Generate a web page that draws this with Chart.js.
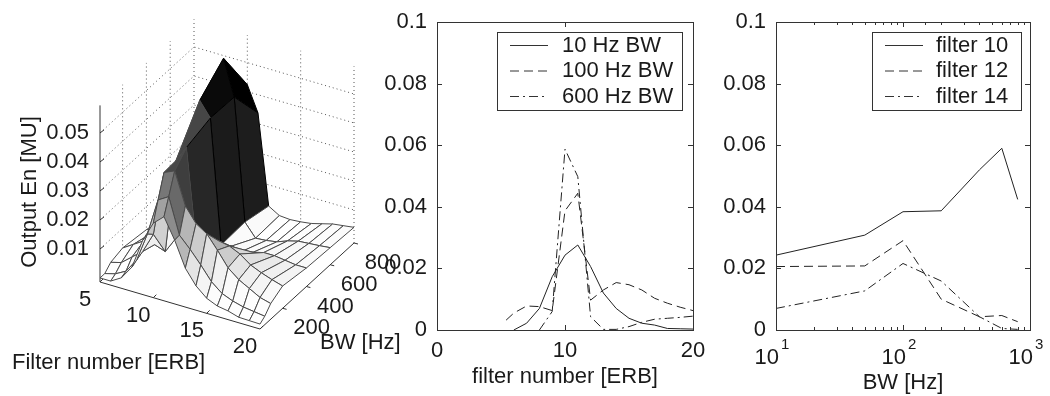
<!DOCTYPE html>
<html>
<head>
<meta charset="utf-8">
<script src="https://cdn.jsdelivr.net/npm/chart.js@4"></script>
<style>
    html, body { margin: 0; padding: 0; background: #fff; }
    #page { position: relative; width: 1050px; height: 396px; overflow: hidden; }
    .panel { position: absolute; top: 0; height: 396px; }
    #surfacePanel { left: 0; width: 410px; }
    #filterPanel { left: 370px; width: 340px; }
    #bwPanel { left: 720px; width: 330px; }
</style>
</head>
<body>
<div id="page">
    <div class="panel" id="bwPanel"><canvas id="bwChart"></canvas></div>
    <div class="panel" id="surfacePanel"><canvas id="surfaceChart"></canvas></div>
    <div class="panel" id="filterPanel"><canvas id="filterChart"></canvas></div>
</div>
<script>
// 1. Data
const filters = [5.4, 6, 7, 8, 9, 10, 11, 12, 13, 14, 15, 16, 17, 18, 19, 20];
const bandwidths = [10, 50, 100, 200, 400, 600, 800];

const bw10 = [0, 0, 0.0022, 0.007, 0.0173, 0.0243, 0.0276, 0.0206, 0.012, 0.007, 0.0038, 0.0022, 0.0016, 0.0005, 0.0004, 0.0003];
const bw50 = [0, 0.001, 0.003, 0.008, 0.018, 0.0308, 0.033, 0.0208, 0.017, 0.0127, 0.008, 0.005, 0.0035, 0.0025, 0.002, 0.0015];
const bw100 = [0.002, 0.003, 0.006, 0.009, 0.016, 0.0384, 0.04, 0.029, 0.024, 0.0216, 0.017, 0.012, 0.009, 0.007, 0.005, 0.004];
const bw200 = [0.0032, 0.0055, 0.0078, 0.0076, 0.0063, 0.0387, 0.0444, 0.0097, 0.013, 0.0154, 0.0147, 0.013, 0.0103, 0.0087, 0.0074, 0.0063];
const bw400 = [0.002, 0.003, 0.004, 0.005, 0.009, 0.052, 0.047, 0.0043, 0.005, 0.0043, 0.005, 0.006, 0.006, 0.0055, 0.005, 0.005];
const bw600 = [0, 0, 0, 0, 0.006, 0.059, 0.0467, 0.0047, 0.0002, 0.0005, 0.0011, 0.0025, 0.0035, 0.0038, 0.0041, 0.0045];
const bw800 = [0, 0, 0, 0, 0.003, 0.0424, 0.0337, 0.0027, 0.0005, 0.0002, 0.0005, 0.001, 0.002, 0.003, 0.0035, 0.004];

// The middle panel's "100 Hz" curve is the 200 Hz row of the surface
const curve10Hz = [null, 0, 0.0022, 0.007, 0.0173, 0.0243, 0.0276, 0.0206, 0.012, 0.007, 0.0038, 0.0022, 0.0016, 0.0005, 0.0004, 0.0003];
const curve100Hz = bw200;
const curve600Hz = [null, null, null, 0, 0.006, 0.0587, 0.0498, 0.0043, 0.0002, 0.0002, 0.0011, 0.0025, 0.0035, 0.0038, 0.0041, 0.0045];

const filter10 = [0.0243, 0.0308, 0.0384, 0.0387, 0.052, 0.059, 0.0424];
const filter12 = [0.0206, 0.0208, 0.029, 0.01, 0.0043, 0.0047, 0.0027];
const filter14 = [0.007, 0.0127, 0.0216, 0.0159, 0.0043, 0.0005, 0.0002];

const surfaceRows = [bw10, bw50, bw100, bw200, bw400, bw600, bw800];
const surfaceFilters = [5, 6, 7, 8, 9, 10, 11, 12, 13, 14, 15, 16, 17, 18, 19, 20];

const energyTicks = [0.01, 0.02, 0.03, 0.04, 0.05];
const filterTicks = [5, 10, 15, 20];
const bwTicks = [200, 400, 600, 800];

// 2. Theme
const Config = {
    font: '"Liberation Sans", Arial, sans-serif',
    fontSize: 22,
    ink: '#1a1a1a',
    axis: '#333333',
    solid: [],
    dashed: [9, 5],
    dashDot: [9, 4, 2, 4]
};
Chart.defaults.font.family = Config.font;
Chart.defaults.font.size = Config.fontSize;
Chart.defaults.color = Config.ink;
Chart.defaults.animation = false;

// 3. Surface panel: an oblique view flattened onto a hidden x/y plane
const View = {
    origin: [100, 282],
    filterAxis: [160, 47],
    bwAxis: [94, -86],
    energyScale: 2900,
    energyFloor: -0.0014,
    energyTop: 0.0595
};

function project(filter, bw, energy) {
    const f = (filter - 5) / 15;
    const b = (bw - 10) / 790;
    return {
        x: View.origin[0] + View.filterAxis[0] * f + View.bwAxis[0] * b,
        y: View.origin[1] + View.filterAxis[1] * f + View.bwAxis[1] * b - (energy - View.energyFloor) * View.energyScale
    };
}

// Inverted gray map, pushed towards white at the bottom of the range
function faceLevel(energy) {
    const t = Math.min(energy / 0.059, 1);
    return Math.round(255 * (1 - (3 * t * t - 2 * t * t * t)));
}

const surfacePoints = [];
surfaceRows.forEach((row, j) => {
    row.forEach((energy, i) => surfacePoints.push(project(surfaceFilters[i], bandwidths[j], energy)));
});

function strokeProjected(chart, points) {
    const { ctx, scales } = chart;
    ctx.beginPath();
    points.forEach((p, i) => {
        const px = scales.x.getPixelForValue(p.x);
        const py = scales.y.getPixelForValue(p.y);
        if (i === 0) ctx.moveTo(px, py); else ctx.lineTo(px, py);
    });
    ctx.stroke();
}

const surfaceFrame = {
    id: 'surfaceFrame',
    beforeDatasetsDraw(chart) {
        const { ctx } = chart;
        const floor = View.energyFloor, top = View.energyTop;
        ctx.save();
        ctx.lineWidth = 1;

        // dotted back walls
        ctx.strokeStyle = '#555555';
        ctx.setLineDash([1, 3]);
        energyTicks.forEach(e => strokeProjected(chart, [project(5, 10, e), project(5, 800, e), project(20, 800, e)]));
        bwTicks.forEach(b => strokeProjected(chart, [project(5, b, floor), project(5, b, top)]));
        filterTicks.slice(1).forEach(f => strokeProjected(chart, [project(f, 800, floor), project(f, 800, top)]));

        // solid axes
        ctx.setLineDash([]);
        ctx.strokeStyle = Config.axis;
        strokeProjected(chart, [project(5, 10, top), project(5, 10, floor), project(20, 10, floor), project(20, 800, floor)]);
        energyTicks.forEach(e => {
            const p = project(5, 10, e);
            strokeProjected(chart, [p, { x: p.x + 4, y: p.y - 3 }]);
        });
        filterTicks.forEach(f => {
            const p = project(f, 10, floor);
            strokeProjected(chart, [p, { x: p.x + 3, y: p.y - 3 }]);
        });
        bwTicks.forEach(b => {
            const p = project(20, b, floor);
            strokeProjected(chart, [p, { x: p.x + 4, y: p.y + 1 }]);
        });
        ctx.restore();
    },
    afterDatasetsDraw(chart) {
        const { ctx } = chart;
        const pts = chart.getDatasetMeta(0).data;
        const nF = surfaceFilters.length;
        ctx.save();
        ctx.lineWidth = 1;
        ctx.lineJoin = 'round';
        // back to front so nearer faces cover farther ones
        for (let j = surfaceRows.length - 2; j >= 0; j--) {
            for (let i = 0; i < nF - 1; i++) {
                const a = pts[j * nF + i], b = pts[j * nF + i + 1];
                const c = pts[(j + 1) * nF + i + 1], d = pts[(j + 1) * nF + i];
                const level = faceLevel(surfaceRows[j][i]);
                ctx.fillStyle = `rgb(${level},${level},${level})`;
                ctx.strokeStyle = level < 60 ? '#000000' : '#4a4a4a';
                ctx.beginPath();
                ctx.moveTo(a.x, a.y);
                ctx.lineTo(b.x, b.y);
                ctx.lineTo(c.x, c.y);
                ctx.lineTo(d.x, d.y);
                ctx.closePath();
                ctx.fill();
                ctx.stroke();
            }
        }
        ctx.restore();

        // axis text
        ctx.save();
        ctx.fillStyle = Config.ink;
        ctx.font = `${Config.fontSize}px ${Config.font}`;
        ctx.textBaseline = 'middle';
        ctx.textAlign = 'right';
        energyTicks.forEach(e => {
            const p = project(5, 10, e);
            ctx.fillText(e.toFixed(2), chart.scales.x.getPixelForValue(p.x) - 11, chart.scales.y.getPixelForValue(p.y));
        });
        ctx.textAlign = 'center';
        filterTicks.forEach(f => {
            const p = project(f, 10, View.energyFloor);
            ctx.fillText(String(f), chart.scales.x.getPixelForValue(p.x) - 15, chart.scales.y.getPixelForValue(p.y) + 18);
        });
        bwTicks.forEach(b => {
            const p = project(20, b, View.energyFloor);
            ctx.fillText(String(b), chart.scales.x.getPixelForValue(p.x) + 29, chart.scales.y.getPixelForValue(p.y) + 20);
        });
        ctx.textAlign = 'left';
        ctx.fillText('Filter number [ERB]', 12, 363);
        ctx.fillText('BW [Hz]', 320, 343);
        ctx.translate(30, 192);
        ctx.rotate(-Math.PI / 2);
        ctx.textAlign = 'center';
        ctx.fillText('Output En [MU]', 0, 0);
        ctx.restore();
    }
};

new Chart(document.getElementById('surfaceChart'), {
    type: 'scatter',
    data: { datasets: [{ data: surfacePoints, pointRadius: 0, showLine: false }] },
    options: {
        responsive: true,
        maintainAspectRatio: false,
        layout: { padding: 0 },
        plugins: { legend: { display: false }, tooltip: { enabled: false } },
        scales: {
            x: { type: 'linear', display: false, min: 0, max: 410 },
            y: { type: 'linear', display: false, min: 0, max: 396, reverse: true }
        }
    },
    plugins: [surfaceFrame]
});

// 4. Line panels: boxed axes with inward ticks and a boxed legend
const boxedAxes = {
    id: 'boxedAxes',
    afterDraw(chart, args, opts) {
        const { ctx, chartArea: a, scales } = chart;
        ctx.save();
        ctx.strokeStyle = Config.axis;
        ctx.lineWidth = 1;
        ctx.strokeRect(a.left + 0.5, a.top + 0.5, a.right - a.left, a.bottom - a.top);
        ctx.beginPath();
        scales.x.ticks.forEach(t => {
            const px = Math.round(scales.x.getPixelForValue(t.value)) + 0.5;
            const len = Number.isInteger(Math.log10(t.value)) || !opts.logX ? 5 : 3;
            ctx.moveTo(px, a.bottom); ctx.lineTo(px, a.bottom - len);
            ctx.moveTo(px, a.top); ctx.lineTo(px, a.top + len);
        });
        scales.y.ticks.forEach(t => {
            const py = Math.round(scales.y.getPixelForValue(t.value)) + 0.5;
            ctx.moveTo(a.left, py); ctx.lineTo(a.left + 5, py);
            ctx.moveTo(a.right, py); ctx.lineTo(a.right - 5, py);
        });
        ctx.stroke();

        // legend
        const box = opts.legend;
        ctx.fillStyle = '#ffffff';
        ctx.fillRect(box.left, box.top, box.width, box.height);
        ctx.strokeRect(box.left + 0.5, box.top + 0.5, box.width, box.height);
        ctx.font = `${Config.fontSize}px ${Config.font}`;
        ctx.textBaseline = 'middle';
        ctx.textAlign = 'left';
        chart.data.datasets.forEach((ds, i) => {
            const y = box.top + 13.5 + i * 25.5;
            ctx.setLineDash(ds.borderDash);
            ctx.beginPath();
            ctx.moveTo(box.left + box.sample, y);
            ctx.lineTo(box.left + box.sample + 38, y);
            ctx.stroke();
            ctx.fillStyle = Config.ink;
            ctx.fillText(ds.label, box.left + box.text, y);
        });
        ctx.setLineDash([]);

        // decade labels with raised exponents
        if (opts.logX) {
            scales.x.ticks.forEach(t => {
                const exp = Math.log10(t.value);
                if (!Number.isInteger(Math.round(exp * 1e6) / 1e6)) return;
                const px = scales.x.getPixelForValue(t.value);
                ctx.font = `${Config.fontSize}px ${Config.font}`;
                ctx.textAlign = 'right';
                ctx.fillText('10', px + 3, a.bottom + 28);
                ctx.font = `15px ${Config.font}`;
                ctx.textAlign = 'left';
                ctx.fillText(String(Math.round(exp)), px + 5, a.bottom + 15);
            });
        }
        ctx.restore();
    }
};

function lineDataset(label, xs, ys, dash) {
    return {
        label: label,
        data: xs.map((x, i) => ({ x: x, y: ys[i] })),
        showLine: true,
        spanGaps: false,
        pointRadius: 0,
        borderColor: '#222222',
        borderWidth: 1,
        borderDash: dash,
        tension: 0
    };
}

function lineOptions(xScale, xTitle, titlePad, leftWidth, rightPad, boxOpts) {
    return {
        responsive: true,
        maintainAspectRatio: false,
        layout: { padding: { top: 22, right: rightPad, left: 0, bottom: 0 } },
        plugins: { legend: { display: false }, tooltip: { enabled: false }, boxedAxes: boxOpts },
        scales: {
            x: Object.assign({
                title: { display: true, text: xTitle, padding: { top: 0, bottom: titlePad } },
                grid: { display: false },
                border: { display: false },
                afterFit: s => { s.height = 66; }
            }, xScale),
            y: {
                min: 0,
                max: 0.1,
                ticks: {
                    stepSize: 0.02,
                    padding: 2,
                    callback: v => String(+v.toFixed(2))
                },
                grid: { display: false },
                border: { display: false },
                afterFit: s => { s.width = leftWidth; }
            }
        }
    };
}

new Chart(document.getElementById('filterChart'), {
    type: 'scatter',
    data: {
        datasets: [
            lineDataset('10 Hz BW', filters, curve10Hz, Config.solid),
            lineDataset('100 Hz BW', filters, curve100Hz, Config.dashed),
            lineDataset('600 Hz BW', filters, curve600Hz, Config.dashDot)
        ]
    },
    options: lineOptions(
        { type: 'linear', min: 0, max: 20, ticks: { stepSize: 10, padding: 0, maxRotation: 0 } },
        'filter number [ERB]', 6, 67, 17,
        { logX: false, legend: { left: 127, top: 32, width: 185, height: 78, sample: 13, text: 65 } }
    ),
    plugins: [boxedAxes]
});

new Chart(document.getElementById('bwChart'), {
    type: 'scatter',
    data: {
        datasets: [
            lineDataset('filter 10', bandwidths, filter10, Config.solid),
            lineDataset('filter 12', bandwidths, filter12, Config.dashed),
            lineDataset('filter 14', bandwidths, filter14, Config.dashDot)
        ]
    },
    options: lineOptions(
        {
            type: 'logarithmic', min: 10, max: 1000,
            ticks: { autoSkip: false, padding: 0, maxRotation: 0, color: 'rgba(0,0,0,0)', callback: () => '10' }
        },
        'BW [Hz]', 0, 56, 20,
        { logX: true, legend: { left: 152, top: 32, width: 149, height: 78, sample: 13, text: 64 } }
    ),
    plugins: [boxedAxes]
});
</script>
</body>
</html>
